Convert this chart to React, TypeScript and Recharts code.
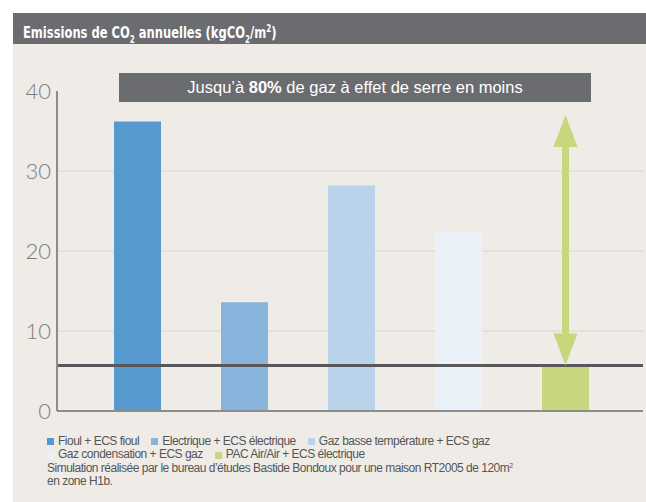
import React from 'react';
import { BarChart, Bar, Cell, XAxis, YAxis, CartesianGrid, ReferenceLine } from 'recharts';

const categories = [
  'Fioul + ECS fioul',
  'Electrique + ECS électrique',
  'Gaz basse température + ECS gaz',
  'Gaz condensation + ECS gaz',
  'PAC Air/Air + ECS électrique',
];
const emissions = [36.2, 13.6, 28.2, 22.5, 5.7];
const colors = ['#5599cf', '#88b4dc', '#b8d3ea', '#eaf1f9', '#c8d67e'];
const yTicks = [0, 10, 20, 30, 40];
const gridValues = [10, 20, 30];
const baseline = 5.7;
const arrowTop = 37;

const data = categories.map((name, i) => ({ name, value: emissions[i] }));

const Arrow = (props: any) => {
  const { x1, y1, x2, y2 } = props;
  const x = (x1 + x2) / 2;
  const top = Math.min(y1, y2);
  const bottom = Math.max(y1, y2);
  const head = 32;
  const hw = 12;
  const sw = 3.5;
  const d = [
    `M${x},${top}`,
    `L${x + hw},${top + head}`,
    `L${x + sw},${top + head}`,
    `L${x + sw},${bottom - head}`,
    `L${x + hw},${bottom - head}`,
    `L${x},${bottom}`,
    `L${x - hw},${bottom - head}`,
    `L${x - sw},${bottom - head}`,
    `L${x - sw},${top + head}`,
    `L${x - hw},${top + head}`,
    'Z',
  ].join(' ');
  return <path d={d} fill="#c8d67e" />;
};

const App: React.FC = () => {
  return (
    <div style={{ position: 'absolute', left: 0, top: 0, width: 646, height: 502, fontFamily: '"Liberation Sans", Arial, sans-serif' }}>
      <div style={{ position: 'absolute', left: 13, top: 44, width: 633, height: 458, background: '#efece8' }} />
      <div style={{ position: 'absolute', left: 13, top: 13, width: 633, height: 31, background: '#6b6c70' }} />
      <div
        style={{
          position: 'absolute', left: 23, top: 13, height: 31,
          color: '#fff', fontFamily: '"DejaVu Sans Condensed", sans-serif', fontWeight: 'bold',
          fontSize: 16, lineHeight: '31px', whiteSpace: 'nowrap',
          transform: 'scaleX(0.8)', transformOrigin: 'left center',
        }}
      >
        Emissions de CO<sub style={{ fontSize: 10 }}>2</sub> annuelles (kgCO<sub style={{ fontSize: 10 }}>2</sub>/m<sup style={{ fontSize: 10 }}>2</sup>)
      </div>
      <div style={{ position: 'absolute', left: 0, top: 0 }}>
        <BarChart width={646} height={431} data={data} margin={{ top: 91, right: 3, bottom: 0, left: 0 }}>
          <CartesianGrid vertical={false} stroke="#d9d6d1" horizontalValues={gridValues} />
          <XAxis dataKey="name" tick={false} tickLine={false} height={20} padding={{ left: 27, right: 24 }} axisLine={{ stroke: '#8c8c8c', strokeWidth: 2 }} />
          <YAxis
            domain={[0, 40]}
            ticks={yTicks}
            width={57}
            tickLine={false}
            tickMargin={0}
            axisLine={{ stroke: '#8c8c8c', strokeWidth: 2 }}
            tick={{ fill: '#7e7e7e', fontSize: 22, fontWeight: 300, fontFamily: 'Lato, sans-serif' }}
          />
          <Bar dataKey="value" barSize={47} isAnimationActive={false}>
            {data.map((d, i) => (
              <Cell key={d.name} fill={colors[i]} />
            ))}
          </Bar>
          <ReferenceLine y={baseline} stroke="#58585a" strokeWidth={3} />
          <ReferenceLine
            segment={[{ x: categories[4], y: baseline }, { x: categories[4], y: arrowTop }]}
            shape={Arrow}
          />
        </BarChart>
      </div>
      <div
        style={{
          position: 'absolute', left: 119, top: 73, width: 472, height: 29, background: '#6b6c70',
          color: '#fff', fontSize: 16.5, lineHeight: '29px', textAlign: 'center', whiteSpace: 'nowrap',
        }}
      >
        Jusqu’à <b>80%</b> de gaz à effet de serre en moins
      </div>
      <div style={{ position: 'absolute', left: 47, top: 435, width: 590, fontSize: 12, letterSpacing: -0.5, lineHeight: '13.4px', color: '#555' }}>
        <div style={{ display: 'flex', flexWrap: 'wrap', width: 470, columnGap: 12 }}>
          {categories.map((c, i) => (
            <span key={c} style={{ display: 'inline-flex', alignItems: 'center', whiteSpace: 'nowrap' }}>
              <span style={{ display: 'inline-block', width: 7, height: 7, background: colors[i], marginRight: 4 }} />
              {c}
            </span>
          ))}
        </div>
        <div>
          Simulation réalisée par le bureau d’études Bastide Bondoux pour une maison RT2005 de 120m<sup style={{ fontSize: 7, verticalAlign: 'top', lineHeight: '8px' }}>2</sup>
          <br />
          en zone H1b.
        </div>
      </div>
    </div>
  );
};

export default App;
